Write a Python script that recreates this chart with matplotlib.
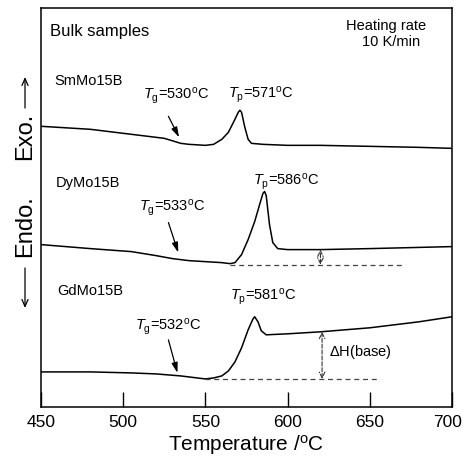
import matplotlib
matplotlib.use("Agg")
import matplotlib.pyplot as plt
from matplotlib.transforms import ScaledTranslation

plt.rcParams['font.family'] = ['Liberation Sans', 'DejaVu Sans']
plt.rcParams['mathtext.fontset'] = 'custom'
plt.rcParams['mathtext.rm'] = 'Liberation Sans'
plt.rcParams['mathtext.it'] = 'Liberation Sans:italic'

# DSC traces (arbitrary units, exo up)
t_sm = [450, 480, 505, 525, 535, 540, 550, 555, 560, 564, 568, 570, 571, 572, 574, 576, 578, 585, 600, 620, 650, 680, 700]
y_sm = [280, 277, 272, 268, 263, 262, 261, 262, 267, 274, 287, 294, 296, 294, 279, 267, 263, 262, 261, 261, 260, 259, 258]

t_dy = [450, 480, 505, 520, 530, 540, 550, 560, 565, 568, 572, 576, 580, 583, 585, 586, 587, 589, 591, 594, 600, 620, 650, 700]
y_dy = [162, 158, 155, 151, 148, 146, 145, 144, 143, 144, 152, 167, 185, 202, 213, 215, 211, 182, 164, 158, 157, 157, 158, 160]

t_gd = [450, 480, 505, 520, 535, 545, 550, 555, 560, 564, 568, 572, 576, 579, 580, 582, 584, 587, 600, 620, 650, 680, 700]
y_gd = [35, 35, 34, 33, 31, 29, 28, 29, 31, 36, 45, 59, 77, 88, 90, 85, 76, 72, 73, 75, 79, 85, 90]

# baselines
base_dy_t = [565, 670]
base_dy_y = 142
base_gd_t = [550, 656]
base_gd_y = 28

fig = plt.figure(figsize=(4.63, 4.57), dpi=100)
ax = fig.add_axes([0.0886, 0.1094, 0.8875, 0.8731])

ax.plot(t_sm, y_sm, color='black', lw=1.1)
ax.plot(t_dy, y_dy, color='black', lw=1.1)
ax.plot(t_gd, y_gd, color='black', lw=1.1)
ax.plot(base_dy_t, [base_dy_y] * 2, color='#444444', lw=0.9, ls=(0, (4, 3)))
ax.plot(base_gd_t, [base_gd_y] * 2, color='#444444', lw=0.9, ls=(0, (4, 3)))

dh = dict(arrowstyle='<->', ls='--', lw=0.8, color='#333333', shrinkA=0, shrinkB=0)
ax.annotate('', xy=(620, 157), xytext=(620, base_dy_y), arrowprops=dh)
ax.annotate('', xy=(621, 75), xytext=(621, base_gd_y), arrowprops=dh)

ax.set_xlim(450, 700)
ax.set_ylim(0, 398)
ax.set_xticks([450, 500, 550, 600, 650, 700])
ax.set_yticks([])
ax.tick_params(axis='x', direction='in', length=11, width=1, labelsize=12.5, pad=6)
for s in ax.spines.values():
    s.set_linewidth(1.1)
ax.set_xlabel('Temperature /$^{\\rm o}$C', fontsize=15, labelpad=2)
fig.canvas.draw()
last = ax.get_xticklabels()[-1]
last.set_transform(last.get_transform() + ScaledTranslation(-4 / 100, 0, fig.dpi_scale_trans))

# texts
fs = 10.5
ax.text(455.5, 375, 'Bulk samples', fontsize=12, va='center')
ax.text(660, 380, 'Heating rate', fontsize=fs, ha='center', va='center')
ax.text(663, 364, '10 K/min', fontsize=fs, ha='center', va='center')
ax.text(458, 325, 'SmMo15B', fontsize=fs, va='center')
ax.text(459, 223, 'DyMo15B', fontsize=fs, va='center')
ax.text(460, 116, 'GdMo15B', fontsize=fs, va='center')

ax.text(532, 310, '$T_{\\rm g}$=530$^{\\rm o}$C', fontsize=fs, ha='center', va='center')
ax.text(563.5, 311, '$T_{\\rm p}$=571$^{\\rm o}$C', fontsize=fs, ha='left', va='center')
ax.text(530, 199, '$T_{\\rm g}$=533$^{\\rm o}$C', fontsize=fs, ha='center', va='center')
ax.text(579, 225, '$T_{\\rm p}$=586$^{\\rm o}$C', fontsize=fs, ha='left', va='center')
ax.text(527.5, 80, '$T_{\\rm g}$=532$^{\\rm o}$C', fontsize=fs, ha='center', va='center')
ax.text(565, 110, '$T_{\\rm p}$=581$^{\\rm o}$C', fontsize=fs, ha='left', va='center')
ax.text(625.5, 55, '$\\Delta$H(base)', fontsize=fs, ha='left', va='center')

ap = dict(arrowstyle='-|>,head_length=0.6,head_width=0.18', lw=0.9, color='black', shrinkA=0, shrinkB=0)
ax.annotate('', xy=(534, 269), xytext=(527.5, 290), arrowprops=ap)
ax.annotate('', xy=(533.5, 154), xytext=(527.5, 184), arrowprops=ap)
ax.annotate('', xy=(533, 34), xytext=(527.5, 67), arrowprops=ap)

# y label with arrows
fig.text(25 / 463, 1 - 136 / 457, 'Exo.', rotation=90, fontsize=17, ha='center', va='center')
fig.text(25 / 463, 1 - 226 / 457, 'Endo.', rotation=90, fontsize=17, ha='center', va='center')
ya = dict(arrowstyle='->,head_length=0.5,head_width=0.22', lw=0.9, color='black', shrinkA=0, shrinkB=0)
ax.annotate('', xy=(25 / 463, 1 - 77 / 457), xytext=(25 / 463, 1 - 108 / 457),
            xycoords='figure fraction', textcoords='figure fraction', arrowprops=ya)
ax.annotate('', xy=(25 / 463, 1 - 308 / 457), xytext=(25 / 463, 1 - 268 / 457),
            xycoords='figure fraction', textcoords='figure fraction', arrowprops=ya)

fig.savefig('out.png', dpi=100)
